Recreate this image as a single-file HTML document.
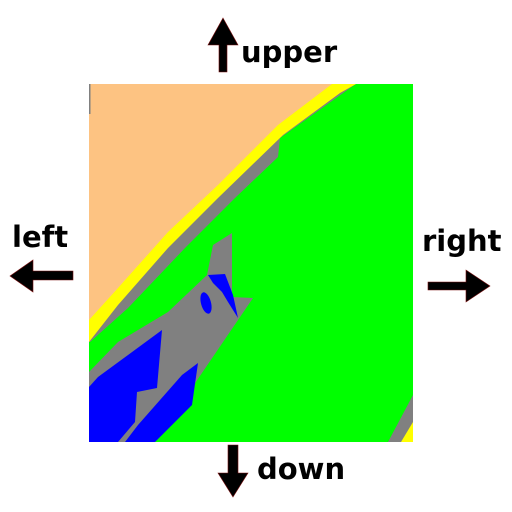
<!DOCTYPE html>
<html><head><meta charset="utf-8"><style>
html,body{margin:0;padding:0;background:#fff;}
svg{display:block;}
text{font-family:"DejaVu Sans","Liberation Sans",sans-serif;font-weight:bold;fill:#000;}
</style></head><body>
<svg width="512" height="512" viewBox="0 0 512 512">
<g>
<rect x="89" y="84" width="324" height="358" fill="#00ff00"/>
<polygon fill="#808080" points="89,84 356,84 353,86 280,138 278,157 235,198 185,248 128,308 90,342 89,342"/>
<polygon fill="#ffff00" points="89,84 356,84 340,93 283,135 218,198 168,248 118,305 89,342"/>
<polygon fill="#fdc382" points="89,84 332,84 278,125 218,185 168,232 118,288 89,320"/>
<polygon fill="#808080" points="89,372 118,342 168,312 207,275 213,245 232,233 232,297 253,298 155,442 89,442"/>
<polygon fill="#0000ff" points="89,387 98,377 162,330 157,388 137,392 135,422 118,442 89,442"/>
<polygon fill="#0000ff" points="125,442 138,425 182,375 198,363 192,405 155,442"/>
<polygon fill="#0000ff" points="208,275 225,274 233,295 238,318 228,302 222,292 213,283"/>
<ellipse fill="#0000ff" cx="206" cy="303" rx="5" ry="11" transform="rotate(-15 206 303)"/>
<polygon fill="#808080" points="413,395 388,442 413,442"/>
<polygon fill="#ffff00" points="401,442 413,422 413,442"/>
<rect x="89" y="84" width="1.5" height="30" fill="#808080"/>
</g>
<g>
<polygon fill="#000" stroke="#7a1010" stroke-width="0.6" points="223,18 238,45 227,45 227,72 219,72 219,45 208,45"/>
<text x="241" y="62" font-size="29">upper</text>
</g>
<g>
<text x="12" y="247" font-size="29">left</text>
<polygon fill="#000" stroke="#7a1010" stroke-width="0.6" points="10,276 33,260 33,271 73,271 73,280 33,280 33,292"/>
</g>
<g>
<text x="422" y="251" font-size="29">right</text>
<polygon fill="#000" stroke="#7a1010" stroke-width="0.6" points="490,286 466,270 466,282 428,282 428,290 466,290 466,302"/>
</g>
<g>
<polygon fill="#000" stroke="#7a1010" stroke-width="0.6" points="233,497 248,473 238,473 238,445 228,445 228,473 218,473"/>
<text x="257" y="479" font-size="29">down</text>
</g>
</svg>
</body></html>
